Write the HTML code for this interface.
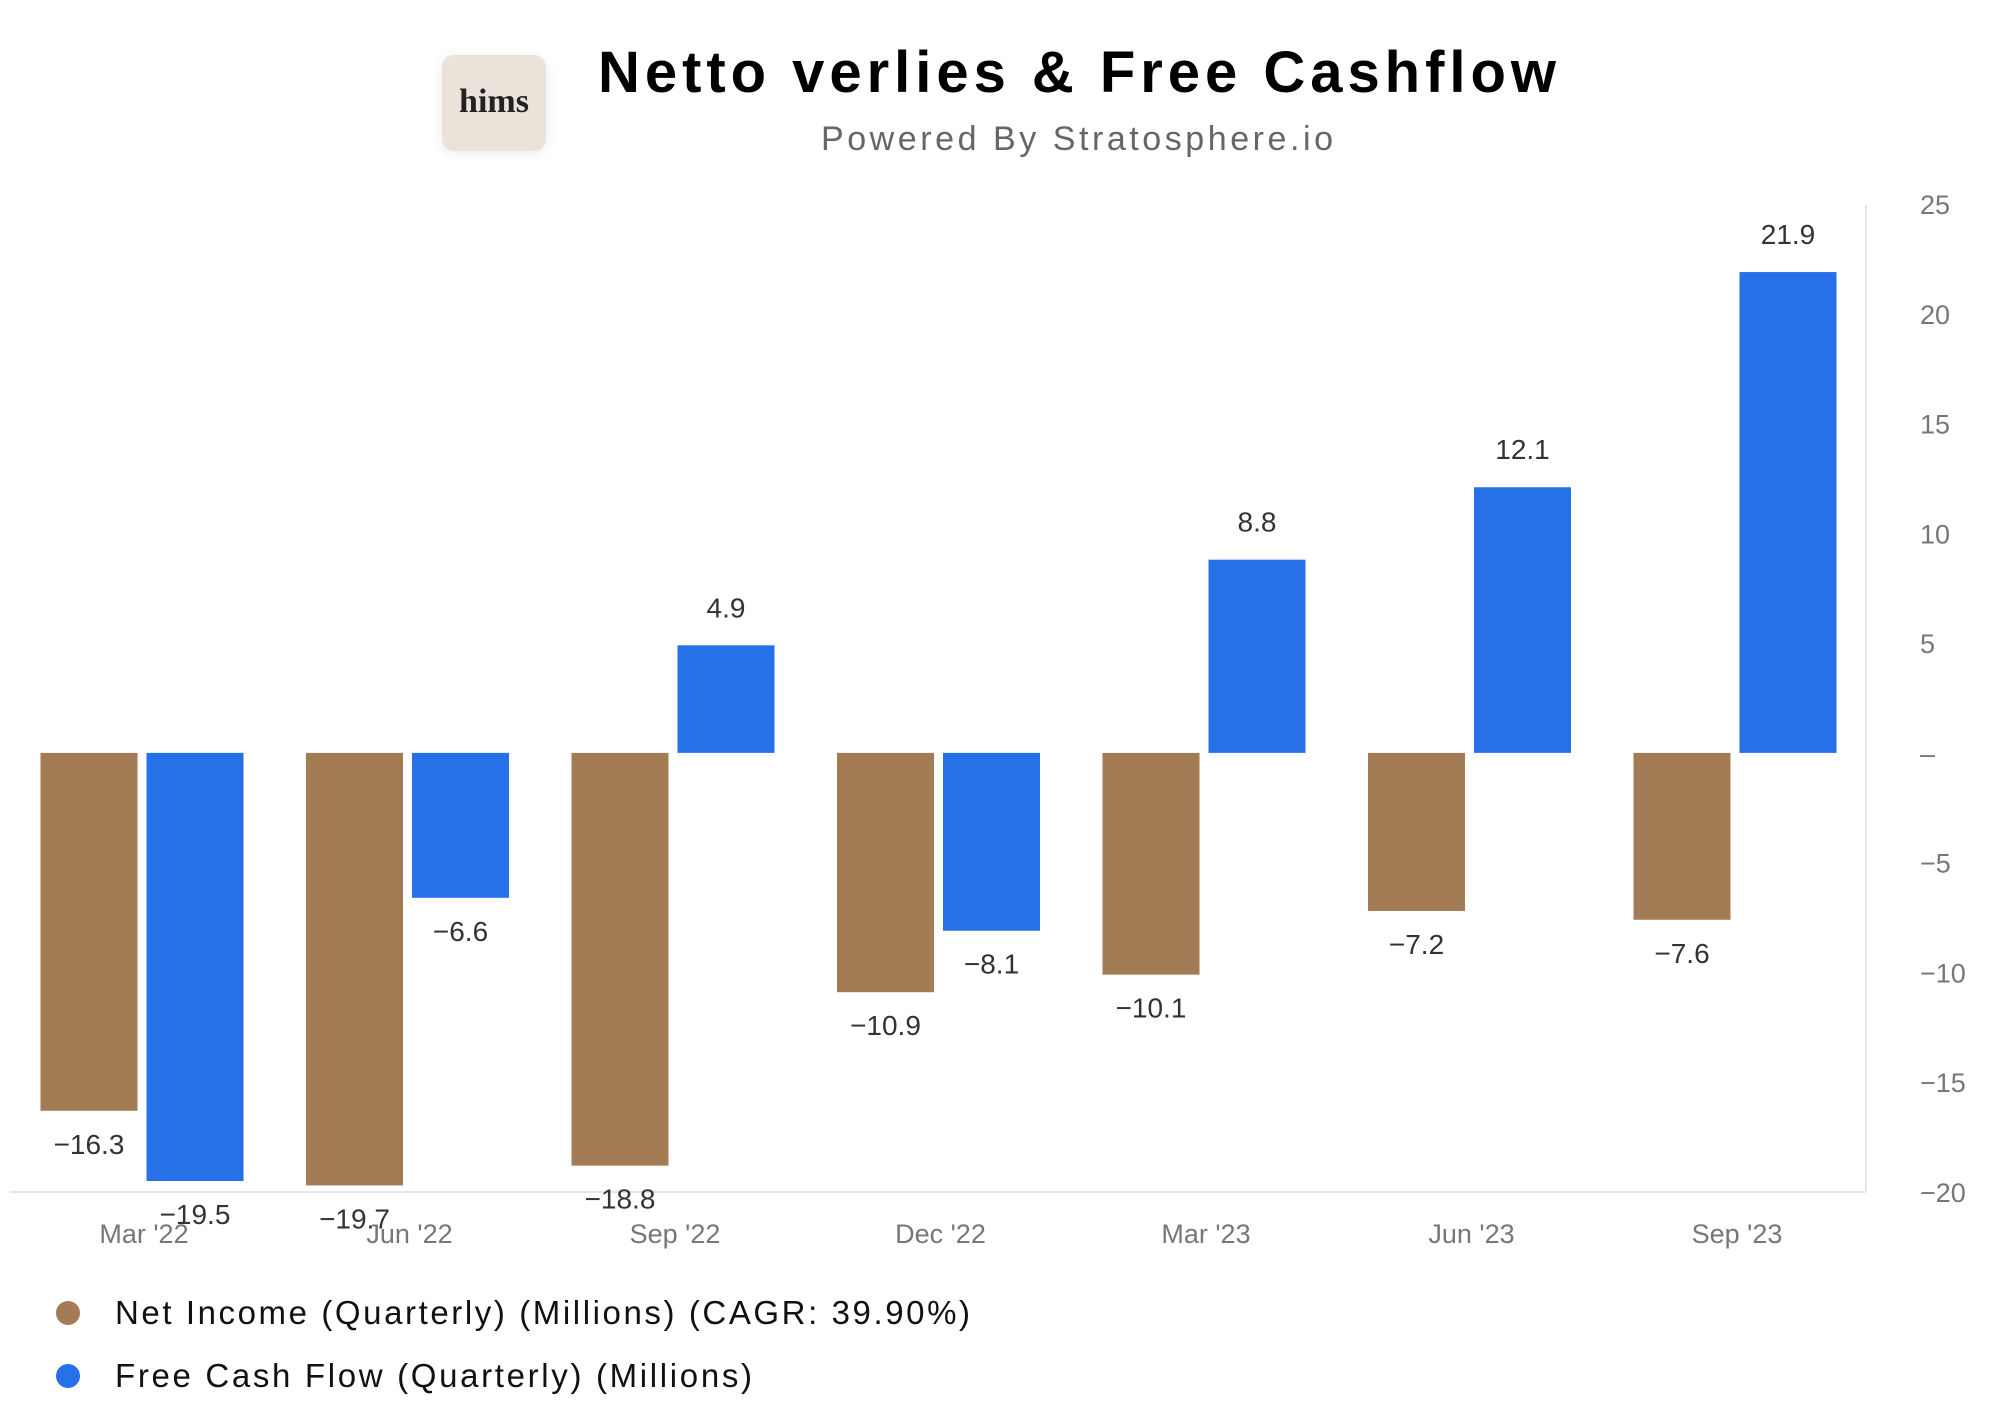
<!DOCTYPE html>
<html><head><meta charset="utf-8"><style>
html,body{margin:0;padding:0;background:#fff;}
svg{display:block;font-family:"Liberation Sans",sans-serif;}
</style></head><body>
<svg id="chart" width="2000" height="1417" viewBox="0 0 2000 1417">
  <g>
    <rect x="442" y="55" width="104" height="96" rx="12" fill="#ebe3da" style="filter:drop-shadow(0 2px 6px rgba(0,0,0,0.08))"/>
    <text x="494" y="112" text-anchor="middle" font-family="Liberation Serif,serif" font-size="34" font-weight="bold" fill="#222">hims</text>
    <text x="1077" y="92" text-anchor="middle" font-size="58" font-weight="bold" fill="#000" textLength="958">Netto verlies &amp; Free Cashflow</text>
    <text x="1077" y="150" text-anchor="middle" font-size="34" fill="#666" textLength="512">Powered By Stratosphere.io</text>
  </g>
  <line x1="1866" y1="205" x2="1866" y2="1192" stroke="#e6e6e6" stroke-width="2"/>
  <line x1="10" y1="1192" x2="1866" y2="1192" stroke="#e6e6e6" stroke-width="2"/>
  <g id="yticks"></g>
  <g id="bars"></g>
  <g id="xlabels"></g>
  <g>
    <circle cx="68" cy="1313" r="12" fill="#a37c56"/>
    <text x="115" y="1324" font-size="33" fill="#111" textLength="855">Net Income (Quarterly) (Millions) (CAGR: 39.90%)</text>
    <circle cx="68" cy="1376" r="12" fill="#2771e8"/>
    <text x="115" y="1387" font-size="33" fill="#111" textLength="637">Free Cash Flow (Quarterly) (Millions)</text>
  </g>
</svg>
<script>
const categories = ["Mar '22","Jun '22","Sep '22","Dec '22","Mar '23","Jun '23","Sep '23"];
const netIncome = [-16.3,-19.7,-18.8,-10.9,-10.1,-7.2,-7.6];
const freeCashFlow = [-19.5,-6.6,4.9,-8.1,8.8,12.1,21.9];
const yTickValues = [25,20,15,10,5,0,-5,-10,-15,-20];
const yTickLabels = ["25","20","15","10","5","\u2013","\u22125","\u221210","\u221215","\u221220"];

const NS = "http://www.w3.org/2000/svg";
const yMin = -20, yMax = 25, yTop = 204, yBottom = 1192;
function y(v){ return yBottom - (v - yMin) / (yMax - yMin) * (yBottom - yTop); }
const groupW = 265.5, firstCenter = 144;
function xc(i){ return firstCenter + i * groupW; }
const barW = 97, gap = 9;
function mk(tag, attrs, parent){ const e=document.createElementNS(NS,tag); for(const k in attrs) e.setAttribute(k,attrs[k]); parent.appendChild(e); return e; }
function fmt(v){ return (v<0?"\u2212":"")+Math.abs(v).toFixed(1); }

const yt = document.getElementById('yticks');
yTickValues.forEach((v,i)=>{
  const t = mk('text',{x:1920,y:y(v)+10,'font-size':27,fill:'#777'},yt);
  
  
  t.textContent = yTickLabels[i];
});

const bg = document.getElementById('bars');
function drawBar(v, x, color, name){
  const y0 = y(0), y1 = y(v);
  const r = mk('rect',{x:x,y:Math.min(y0,y1),width:barW,height:Math.abs(y1-y0),fill:color},bg);
  
  
  const ly = v >= 0 ? y1 - 28 : y1 + 43;
  const t = mk('text',{x:x+barW/2,y:ly,'text-anchor':'middle','font-size':28,fill:'#333'},bg);
  
  
  t.textContent = fmt(v);
}
categories.forEach((c,i)=>{
  drawBar(netIncome[i], xc(i) - barW - gap/2 - 2, '#a37c56', 'bar-net-income');
  drawBar(freeCashFlow[i], xc(i) + gap/2 - 2, '#2771e8', 'bar-free-cash-flow');
});

const xl = document.getElementById('xlabels');
categories.forEach((c,i)=>{
  const t = mk('text',{x:xc(i),y:1243,'text-anchor':'middle','font-size':27,fill:'#777'},xl);
  
  
  t.textContent = c;
});
</script>
</body></html>
